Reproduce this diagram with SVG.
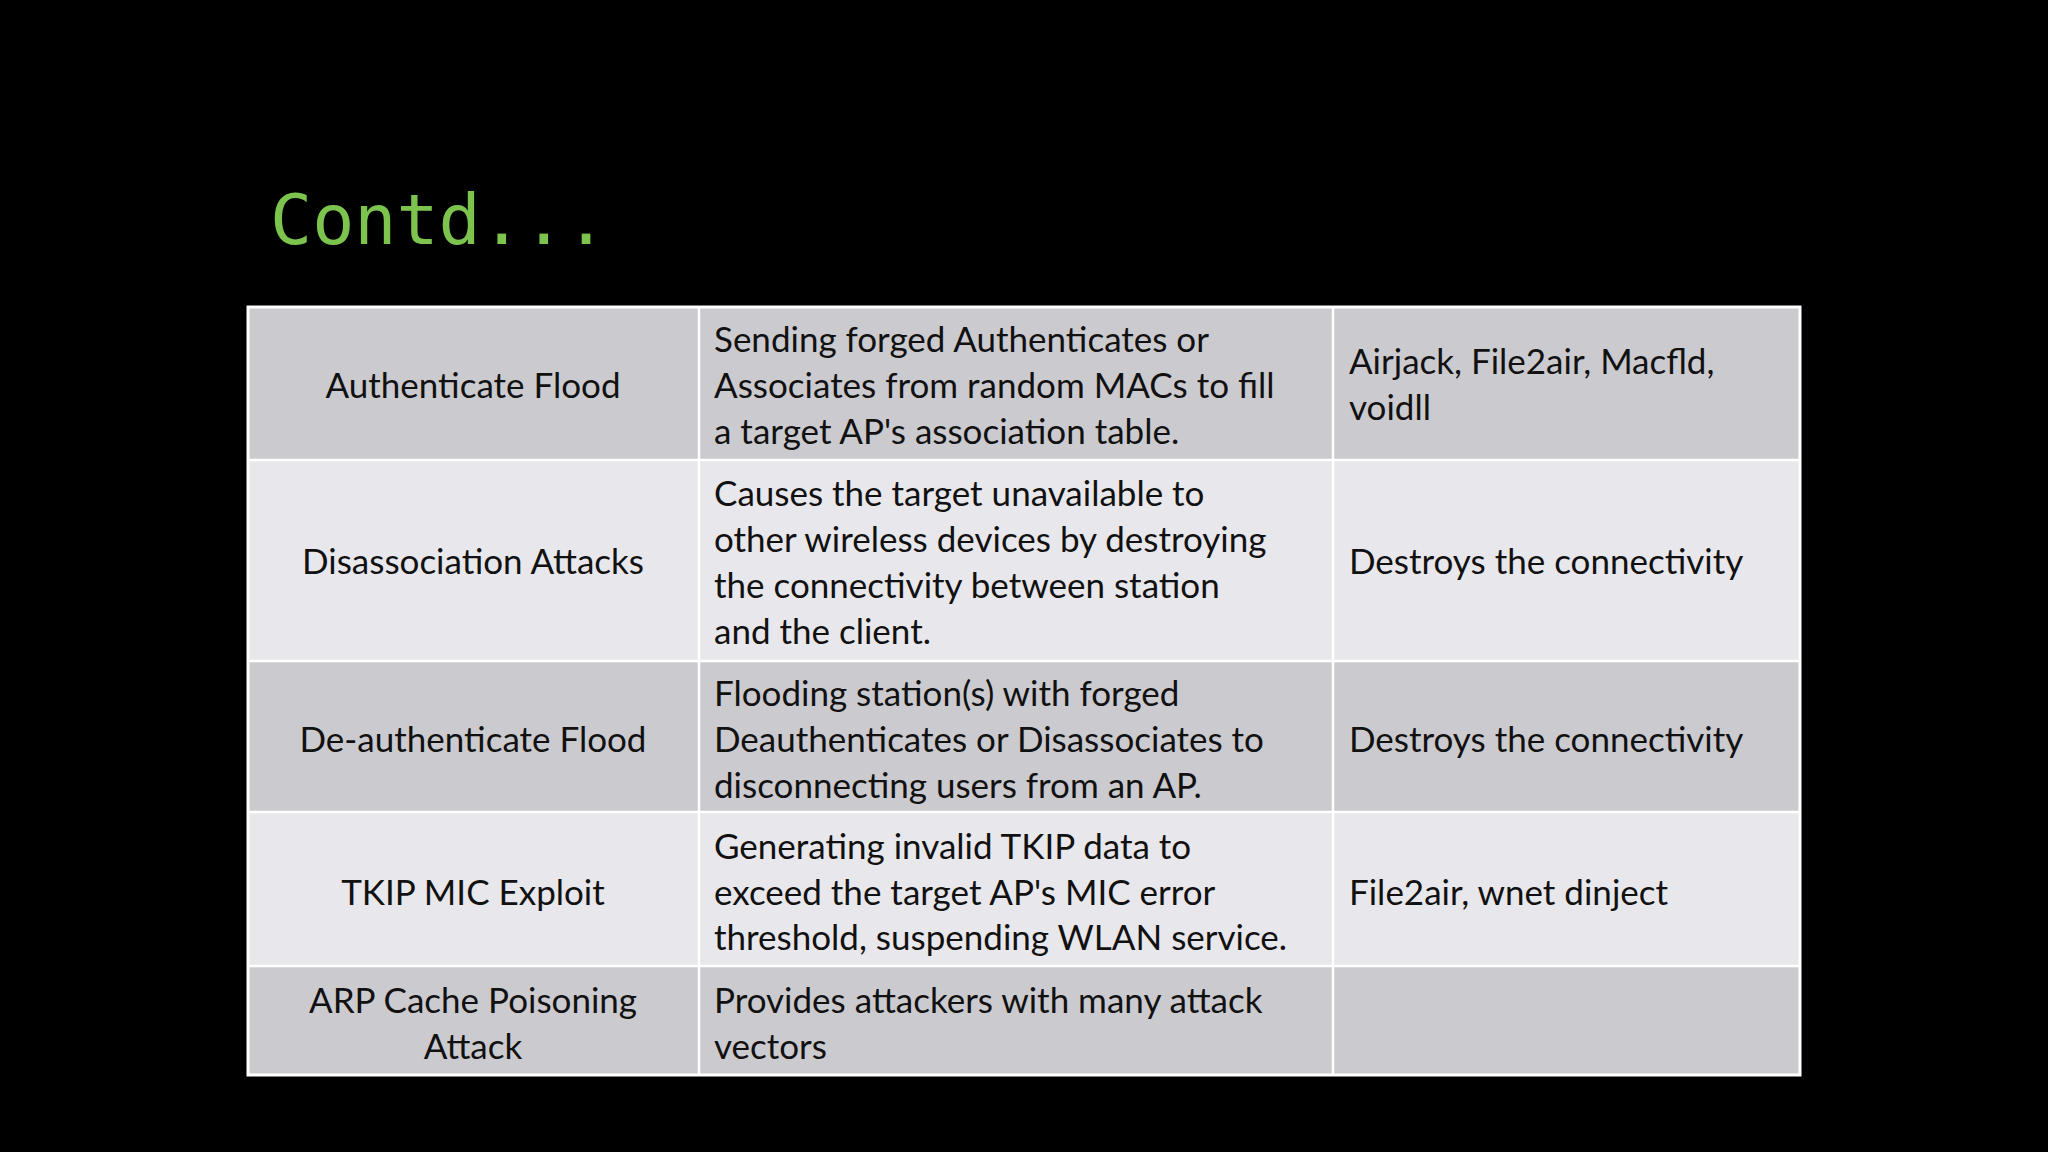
<svg xmlns="http://www.w3.org/2000/svg" width="2048" height="1152" viewBox="0 0 2048 1152">
<style>
.d{fill:#cbcacf}.l{fill:#e8e7eb}
.g line{stroke:#fff;stroke-width:2.5}
text{font-family:Lato,"Open Sans",sans-serif;font-size:35px;fill:#111;dominant-baseline:central}
.c{text-anchor:middle}
</style>
<rect width="2048" height="1152" fill="#000"/>
<text x="270" y="220" style="font-family:'DejaVu Sans Mono','Liberation Mono',monospace;font-size:70px;fill:#7cc44e">Contd...</text>
<g id="table">
<rect class="d" x="248" y="307" width="1552" height="153"/>
<rect class="l" x="248" y="460" width="1552" height="201"/>
<rect class="d" x="248" y="661" width="1552" height="151"/>
<rect class="l" x="248" y="812" width="1552" height="154"/>
<rect class="d" x="248" y="966" width="1552" height="109"/>
<g class="g">
<rect x="248" y="307" width="1552" height="768" fill="none" stroke="#fff" stroke-width="3"/>
<line x1="699" y1="307" x2="699" y2="1075"/><line x1="1333" y1="307" x2="1333" y2="1075"/>
<line x1="248" y1="460" x2="1800" y2="460"/><line x1="248" y1="661" x2="1800" y2="661"/>
<line x1="248" y1="812" x2="1800" y2="812"/><line x1="248" y1="966" x2="1800" y2="966"/>
</g>
</g>
<g id="r1">
<text class="c" x="473" y="384">Authenticate Flood</text>
<text x="714" y="338">Sending forged Authenticates or</text>
<text x="714" y="384">Associates from random MACs to fill</text>
<text x="714" y="430">a target AP's association table.</text>
<text x="1349" y="360">Airjack, File2air, Macfld,</text>
<text x="1349" y="406">voidll</text>
</g>
<g id="r2">
<text class="c" x="473" y="560">Disassociation Attacks</text>
<text x="714" y="492">Causes the target unavailable to</text>
<text x="714" y="538">other wireless devices by destroying</text>
<text x="714" y="584">the connectivity between station</text>
<text x="714" y="630">and the client.</text>
<text x="1349" y="560">Destroys the connectivity</text>
</g>
<g id="r3">
<text class="c" x="473" y="738">De-authenticate Flood</text>
<text x="714" y="692">Flooding station(s) with forged</text>
<text x="714" y="738">Deauthenticates or Disassociates to</text>
<text x="714" y="784">disconnecting users from an AP.</text>
<text x="1349" y="738">Destroys the connectivity</text>
</g>
<g id="r4">
<text class="c" x="473" y="891">TKIP MIC Exploit</text>
<text x="714" y="845">Generating invalid TKIP data to</text>
<text x="714" y="891">exceed the target AP's MIC error</text>
<text x="714" y="936">threshold, suspending WLAN service.</text>
<text x="1349" y="891">File2air, wnet dinject</text>
</g>
<g id="r5">
<text class="c" x="473" y="999">ARP Cache Poisoning</text>
<text class="c" x="473" y="1045">Attack</text>
<text x="714" y="999">Provides attackers with many attack</text>
<text x="714" y="1045">vectors</text>
</g>
</svg>
